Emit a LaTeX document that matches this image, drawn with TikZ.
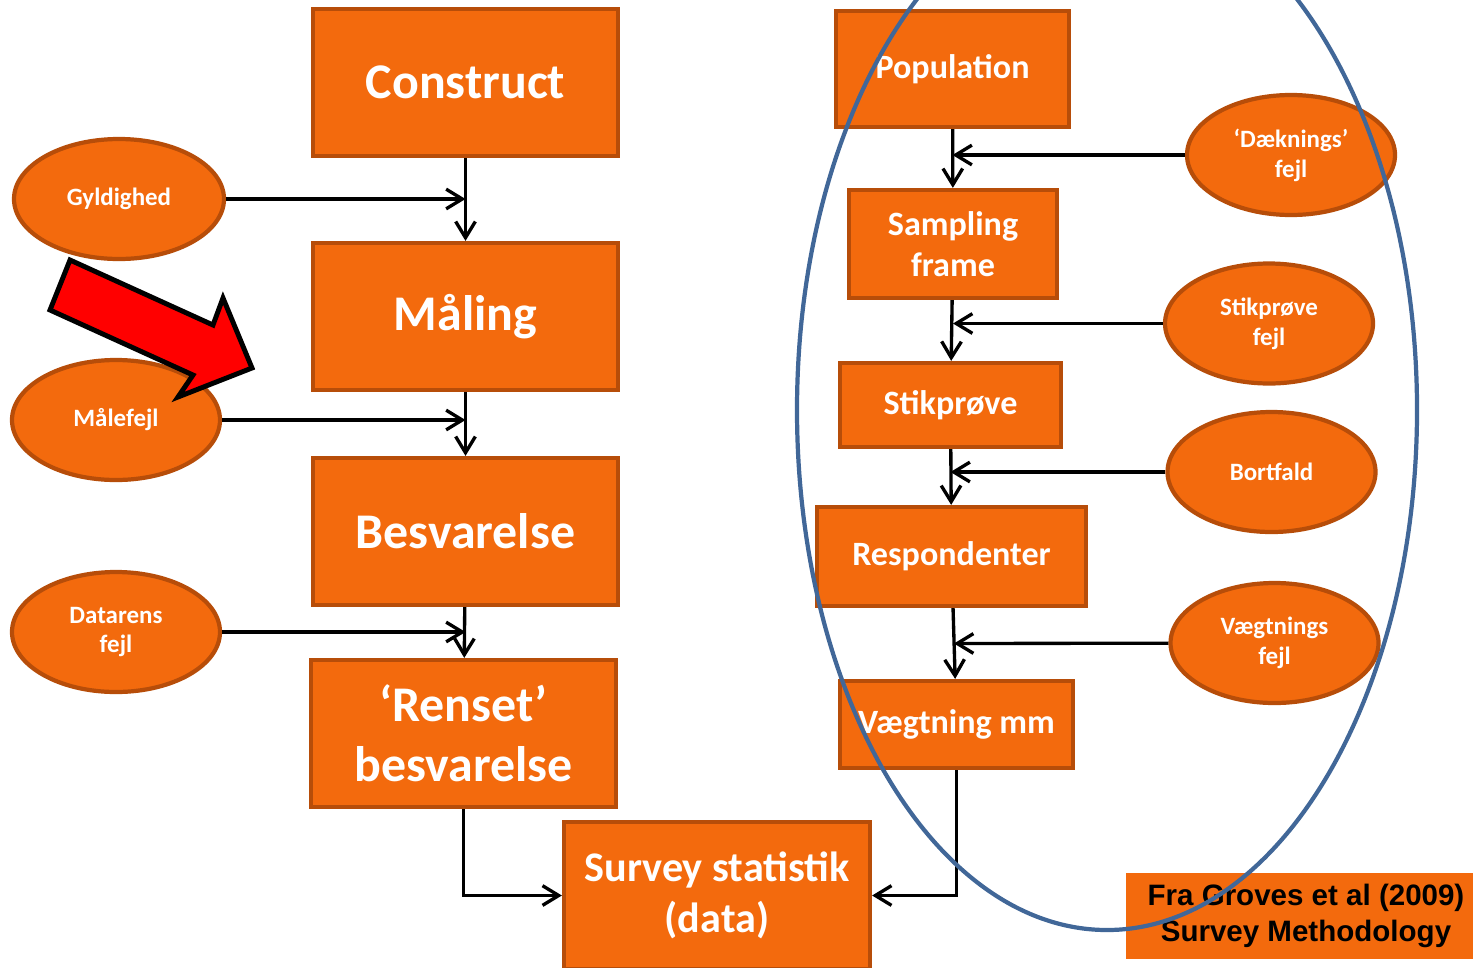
\documentclass[tikz,border=0pt]{standalone}
\usepackage{fontspec}
\setmainfont{Carlito}
\newfontfamily\citefont{Liberation Sans}
\usetikzlibrary{shapes.geometric, arrows.meta, calc}
\definecolor{boxorange}{RGB}{243,106,13}
\definecolor{boxedge}{RGB}{183,77,9}
\definecolor{ringblue}{RGB}{65,103,152}

\begin{document}
\begin{tikzpicture}
            [->, >={Straight Barb[length=4.6pt,width=5.6pt]}, line width=0.95pt,
             box/.style={shape=rectangle, fill=boxorange, draw=boxedge, line width=1.2pt, text=white, align=center, inner sep=0pt},
             bigbox/.style={box, minimum width=3.05cm, minimum height=1.47cm, font=\bfseries\fontsize{14.2}{17}\selectfont},
             smallbox/.style={box, font=\bfseries\fontsize{9.7}{11.6}\selectfont},
             errell/.style={shape=ellipse, fill=boxorange, draw=boxedge, line width=1.2pt, text=white, align=center, inner sep=0pt,
                            minimum width=2.08cm, minimum height=1.2cm, font=\bfseries\fontsize{7.1}{8.5}\selectfont}]
            \useasboundingbox (0, 0) rectangle (14.73, -9.67);
            \clip (0, 0) rectangle (14.73, -9.67);
            % left column
            \node[bigbox] (construct) at (4.655, -0.825) {Construct};
            \node[bigbox] (maaling) at (4.655, -3.165) {\raisebox{-1pt}{Måling}};
            \node[bigbox] (besvar) at (4.655, -5.315) {Besvarelse};
            \node[bigbox] (renset) at (4.635, -7.335) {‘Renset’\\besvarelse};
            \node[box, minimum width=3.06cm, minimum height=1.47cm, font=\bfseries\fontsize{12}{14.4}\selectfont] (survey) at (7.17, -8.955) {Survey statistik\\(data)};
            \node[errell, minimum width=2.1cm] (gyld) at (1.19, -1.99) {Gyldighed};
            \node[errell] (maalefejl) at (1.16, -4.20) {Målefejl};
            \node[errell] (datarens) at (1.16, -6.32) {Datarens\\fejl};
            % right column
            \node[smallbox, minimum width=2.33cm, minimum height=1.16cm] (pop) at (9.525, -0.69) {\raisebox{-1pt}{Population}};
            \node[smallbox, minimum width=2.08cm, minimum height=1.08cm] (frame) at (9.53, -2.44) {Sampling\\frame};
            \node[smallbox, minimum width=2.21cm, minimum height=0.84cm] (stik) at (9.505, -4.05) {Stikprøve};
            \node[smallbox, minimum width=2.69cm, minimum height=0.99cm] (resp) at (9.515, -5.565) {Respondenter};
            \node[smallbox, minimum width=2.33cm, minimum height=0.87cm] (vaeg) at (9.565, -7.245) {Vægtning mm};
            \node[errell] (daek) at (12.91, -1.55) {‘Dæknings’\\fejl};
            \node[errell] (stikfejl) at (12.69, -3.235) {Stikprøve\\fejl};
            \node[errell] (bortfald) at (12.715, -4.72) {Bortfald};
            \node[errell] (vfejl) at (12.745, -6.43) {Vægtnings\\fejl};
            \node[fill=boxorange, minimum width=3.6cm, minimum height=0.86cm, inner sep=0pt, align=center,
                  font=\citefont\bfseries\fontsize{8.4}{10.2}\selectfont] (cite) at (13.06, -9.16) {Fra Groves et al (2009)\\Survey Methodology};

            \path [->] (construct) edge (maaling);
            \path [->] (maaling) edge (besvar);
            \path [->] (besvar) edge (renset);
            \path [->] (gyld) edge (construct.south |- gyld);
            \path [->] (maalefejl) edge (maaling.south |- maalefejl);
            \path [->] (datarens) edge (besvar.south |- datarens);
            \draw [->] (renset.south) |- (survey.west);

            \path [->] (pop) edge (frame);
            \path [->] (frame) edge (stik);
            \path [->] (stik) edge (resp);
            \path [->] (resp) edge (vaeg);
            \path [->] (daek) edge (pop.south |- daek);
            \path [->] (stikfejl) edge (frame.south |- stikfejl);
            \path [->] (bortfald) edge (stik.south |- bortfald);
            \path [->] (vfejl) edge ($(resp.south)!0.5!(vaeg.north)$);
            \draw [->] (vaeg.south) |- (survey.east);

            % red pointer
            \draw [-, fill=red, draw=black, line width=1.4pt, line join=miter]
                (0.70, -2.60) -- (2.13, -3.25) -- (2.23, -2.98) -- (2.52, -3.68)
                -- (1.78, -3.97) -- (1.93, -3.75) -- (0.50, -3.10) -- cycle;
            % ring round the right column
            \draw [-, draw=ringblue, line width=1.2pt] (11.07, -4.10) ellipse [x radius=3.10, y radius=5.20];
        \end{tikzpicture}
\end{document}
